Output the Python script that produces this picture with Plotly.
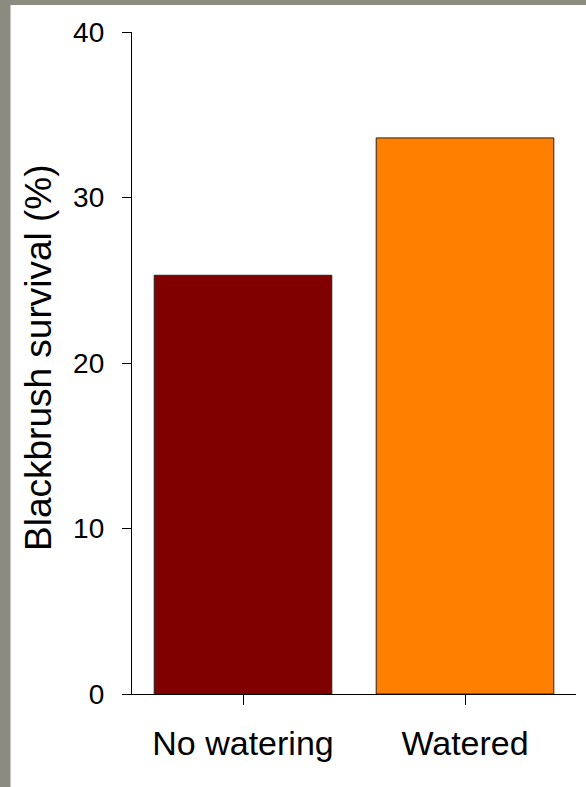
import plotly.graph_objects as go

categories = ["No watering", "Watered"]
survival = [25.3, 33.6]
bar_colors = ["#800000", "#ff8000"]
y_ticks = [0, 10, 20, 30, 40]
y_title = "Blackbrush survival (%)"

W, H = 586, 787
ml, mr, mt, mb = 132, 10, 32, 93
pw = W - ml - mr
ph = H - mt - mb

fig = go.Figure()
fig.add_trace(go.Bar(
    x=[0, 1], y=survival, width=0.8,
    marker=dict(color=bar_colors, line=dict(color="#222222", width=1)),
    showlegend=False,
))

# textured gray slide border on the left and top edges
gray = "#8b8c7f"
left_x0 = (0 - ml) / pw - 0.1
left_x1 = (10.5 - ml) / pw
top_y0 = (H - mb - 5) / ph
top_y1 = (H - mb + 40) / ph
bottom_y = (H - mb - H - 40) / ph
fig.add_shape(type="rect", xref="paper", yref="paper", x0=left_x0, x1=left_x1,
              y0=bottom_y, y1=top_y1, fillcolor=gray, line=dict(width=0), layer="below")
fig.add_shape(type="rect", xref="paper", yref="paper", x0=left_x0, x1=1.2,
              y0=top_y0, y1=top_y1, fillcolor=gray, line=dict(width=0), layer="below")

font = "Liberation Sans, Arial, sans-serif"
fig.add_annotation(
    text=y_title, textangle=-90, xref="paper", yref="paper",
    x=(38 - ml) / pw, y=(H - mb - 358) / ph, showarrow=False,
    xanchor="center", yanchor="middle", font=dict(size=37),
)
fig.update_layout(
    width=W, height=H,
    margin=dict(l=ml, r=mr, t=mt, b=mb),
    paper_bgcolor="white",
    plot_bgcolor="white",
    font=dict(family=font, color="black"),
    xaxis=dict(
        range=[-0.5, 1.5], tickvals=[0, 1], ticktext=categories,
        showline=True, linecolor="black", linewidth=1.3,
        ticks="outside", ticklen=10, tickwidth=1.3, tickcolor="black",
        tickfont=dict(size=34), showgrid=False, zeroline=False,
        ticklabelstandoff=9,
    ),
    yaxis=dict(
        range=[0, 40], tickvals=y_ticks,
        showline=True, linecolor="black", linewidth=1.3,
        ticks="outside", ticklen=9, tickwidth=1.3, tickcolor="black",
        tickfont=dict(size=28), showgrid=False, zeroline=False,
        ticklabelstandoff=12,
    ),
)

fig.write_html("out.html")
